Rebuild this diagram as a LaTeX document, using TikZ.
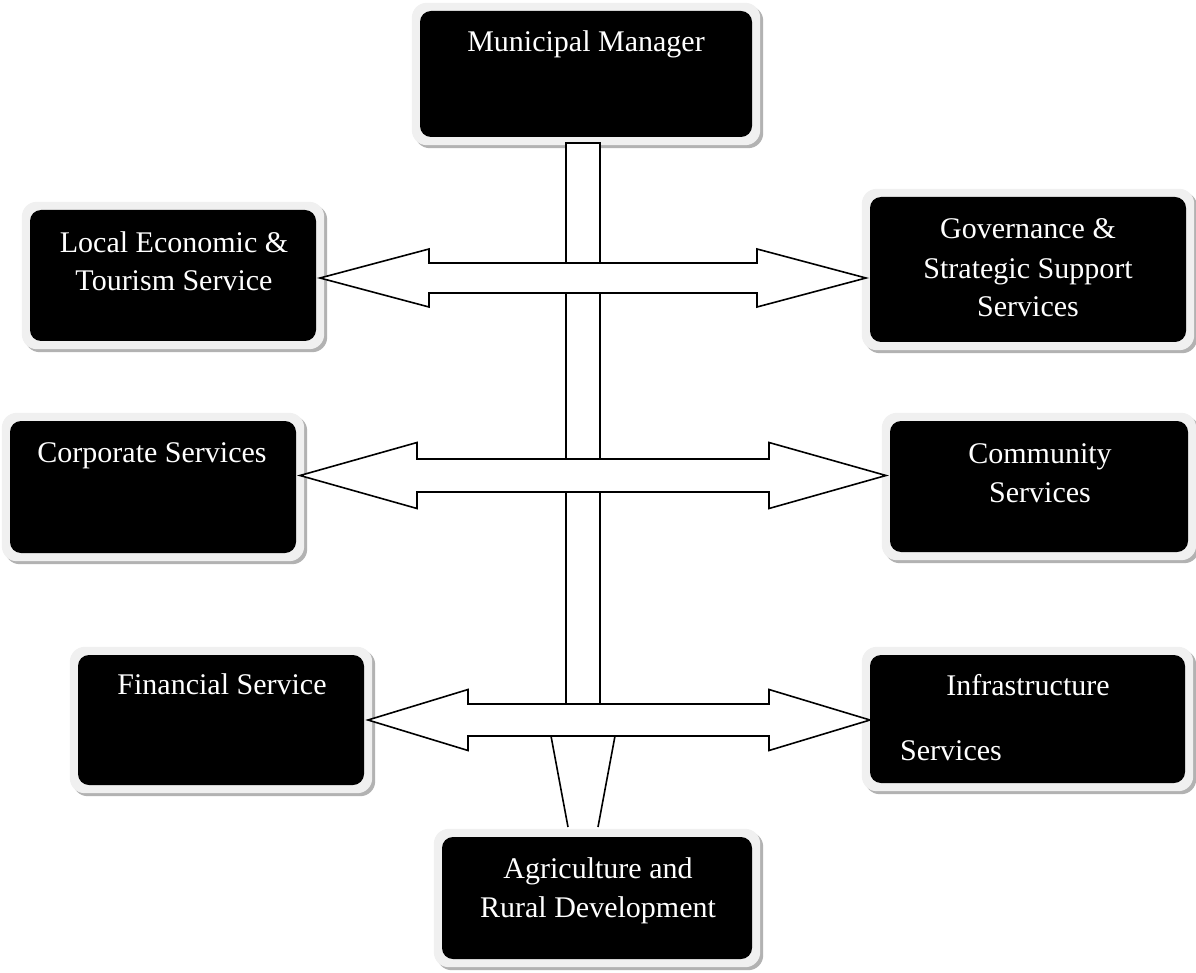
\documentclass[tikz,border=0pt]{standalone}
\usepackage{fontspec}
\setmainfont{Liberation Serif}
\usetikzlibrary{backgrounds,calc}
\tikzset{
  blackbox/.style={rectangle, rounded corners=11pt, fill=black, inner sep=0pt},
  lbl/.style={text=white, font=\fontsize{30}{39}\selectfont, inner sep=0pt, anchor=base},
  barstyle/.style={fill=white, draw=black, line width=1.6pt},
  blockarrow/.style={fill=white, draw=black, line width=1.6pt, line join=miter},
  frameband/.style={fill=black!6, rounded corners=15pt},
  frameshadow/.style={fill=black!30, rounded corners=15pt},
}
\newcommand\myFrameOf[1]{%
  \fill[frameshadow] ($(#1.south west)+(-5pt,-11pt)$) rectangle ($(#1.north east)+(11pt,5pt)$);
  \fill[frameband] ($(#1.south west)+(-8pt,-8pt)$) rectangle ($(#1.north east)+(8pt,8pt)$);}
% xl, xr, y, hl, hr, headhalf, shafthalf
\newcommand\myDblArrow[7]{%
  \draw[blockarrow] (#1,#3) -- (#4,{#3-#6}) -- (#4,{#3-#7}) -- (#5,{#3-#7}) -- (#5,{#3-#6})
    -- (#2,#3) -- (#5,{#3+#6}) -- (#5,{#3+#7}) -- (#4,{#3+#7}) -- (#4,{#3+#6}) -- cycle;}
\begin{document}
\begin{tikzpicture}[x=1pt, y=-1pt]
\useasboundingbox (0,0) rectangle (1196,973);
% boxes
\node[blackbox, minimum width=332pt, minimum height=126pt] (mm) at (586,74) {};
\node[blackbox, minimum width=286pt, minimum height=131pt] (les) at (173,275.5) {};
\node[blackbox, minimum width=316pt, minimum height=145pt] (gov) at (1028,269.5) {};
\node[blackbox, minimum width=286pt, minimum height=132pt] (corp) at (153,487) {};
\node[blackbox, minimum width=298pt, minimum height=131pt] (comm) at (1039,486.5) {};
\node[blackbox, minimum width=286pt, minimum height=130pt] (fin) at (221,720) {};
\node[blackbox, minimum width=315pt, minimum height=128pt] (infra) at (1027.5,719) {};
\node[blackbox, minimum width=310pt, minimum height=122pt] (agri) at (597,898) {};
\begin{scope}[on background layer]
  \foreach \b in {mm,les,gov,corp,comm,fin,infra,agri}{\myFrameOf{\b}}
\end{scope}
% labels
\node[lbl] (tmm) at (586,52) {Municipal Manager};
\node[lbl] (tles1) at (174,253) {Local Economic \&};
\node[lbl] (tles2) at (174,291) {Tourism Service};
\node[lbl] (tgov1) at (1028,239) {Governance \&};
\node[lbl] (tgov2) at (1028,279) {Strategic Support};
\node[lbl] (tgov3) at (1028,317) {Services};
\node[lbl] (tcorp) at (152,462) {Corporate Services};
\node[lbl] (tcomm1) at (1040,463) {Community};
\node[lbl] (tcomm2) at (1040,502) {Services};
\node[lbl] (tfin) at (222,694) {Financial Service};
\node[lbl] (tinf1) at (1028,695) {Infrastructure};
\node[lbl, anchor=base west] (tinf2) at (900,760) {Services};
\node[lbl] (tagr1) at (598,878) {Agriculture and};
\node[lbl] (tagr2) at (598,917) {Rural Development};
% vertical bar
\draw[barstyle] (566,143) rectangle (600,706);
% tapered stem to agriculture
\coordinate (stl) at (551,736);
\coordinate (str) at (615,736);
\coordinate (sbl) at (568,827);
\coordinate (sbr) at (598,827);
\draw[line width=1.6pt] (stl) -- (sbl);
\draw[line width=1.6pt] (str) -- (sbr);
% double block arrows
\myDblArrow{320}{866}{278}{429}{757}{29}{15}
\myDblArrow{300}{886}{475.5}{417}{769}{33}{16.5}
\myDblArrow{368}{870}{720}{468}{769}{30.5}{16}
\end{tikzpicture}
\end{document}
